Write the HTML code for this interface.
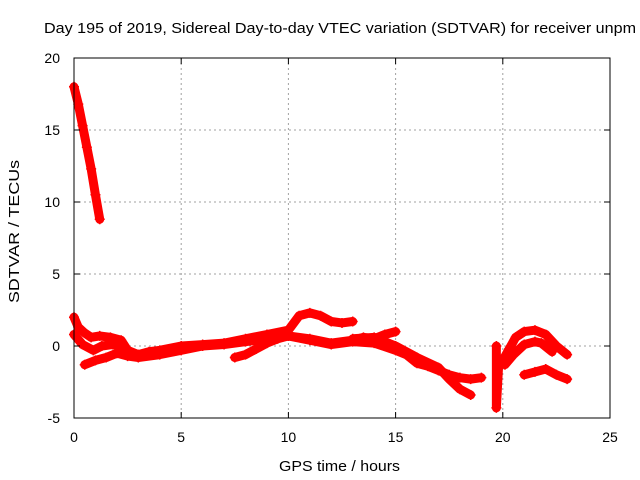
<!DOCTYPE html>
<html><head><meta charset="utf-8"><style>
body{margin:0;background:#fff;}
svg{display:block;font-family:"Liberation Sans",sans-serif;}
</style></head><body>
<svg id="chart" width="640" height="480" xmlns="http://www.w3.org/2000/svg">
<text x="44" y="33" font-size="15" textLength="592" lengthAdjust="spacingAndGlyphs">Day 195 of 2019, Sidereal Day-to-day VTEC variation (SDTVAR) for receiver unpm</text>
<text x="279" y="471" font-size="15" textLength="121" lengthAdjust="spacingAndGlyphs">GPS time / hours</text>
<text transform="translate(19,303) rotate(-90)" font-size="15" textLength="143" lengthAdjust="spacingAndGlyphs">SDTVAR / TECUs</text>
<g id="grid"></g><g id="marks"></g><g id="axes"></g>
</svg>
<script>
const xTicks=[0,5,10,15,20,25];
const yTicks=[-5,0,5,10,15,20];
const s1x=[0,0.2,0.4,0.6,0.8,1.0,1.2];
const s1y=[18,16.8,15.3,13.8,12.3,10.5,8.8];
const s2x=[0,0.2,0.5,0.8,1.2,1.7,2.2,2.5,3,3.5,4,5,6,7,8,9,10,10.5,11,11.5,12,12.5,13];
const s2y=[2,1.3,0.9,0.6,0.7,0.6,0.4,-0.3,-0.6,-0.4,-0.3,0,0.1,0.2,0.5,0.8,1.1,2.1,2.3,2.1,1.7,1.6,1.7];
const s3x=[0,0.4,0.9,1.3,1.8,2.2];
const s3y=[0.8,0.1,-0.3,0,0.1,0];
const s4x=[0.5,1,1.5,2,2.5,3,4,5,6,7,8,9,10,11,12,13,13.5,14,14.5,15];
const s4y=[-1.3,-1,-0.8,-0.5,-0.7,-0.8,-0.6,-0.3,0,0.1,0.3,0.5,0.7,0.5,0.2,0.4,0.6,0.5,0.8,1.0];
const s5x=[7.5,8,8.5,9,9.5,10,11,12,13,14,15,15.5,16,16.5,17,17.5,18,18.5,19];
const s5y=[-0.8,-0.6,-0.2,0.2,0.5,0.7,0.4,0.1,0.3,0.2,-0.3,-0.6,-1.2,-1.4,-1.7,-2.0,-2.2,-2.3,-2.2];
const s6x=[13,14,15,16,17,17.5,18,18.5];
const s6y=[0.5,0.6,0,-0.8,-1.5,-2.3,-3.0,-3.4];
const s7x=[19.7,19.7,19.8,20,20.3,20.6,21,21.5,22,22.5,23];
const s7y=[0,-4.3,-1.5,-1,-0.2,0.6,1.0,1.1,0.8,0,-0.6];
const s8x=[20.1,20.5,21,21.5,21.8,22.3];
const s8y=[-1.3,-0.6,0.1,0.3,0.2,-0.4];
const s9x=[21,21.5,22,22.5,23];
const s9y=[-2,-1.8,-1.6,-2.0,-2.3];
const series=[[s1x,s1y],[s2x,s2y],[s3x,s3y],[s4x,s4y],[s5x,s5y],[s6x,s6y],[s7x,s7y],[s8x,s8y],[s9x,s9y]];
const L=74,R=610,T=58,B=418;
const X=v=>L+(v-0)/25*(R-L);
const Y=v=>B-(v+5)/25*(B-T);
const NS="http://www.w3.org/2000/svg";
function mk(t,a,p){const e=document.createElementNS(NS,t);for(const k in a)e.setAttribute(k,a[k]);p.appendChild(e);return e;}
const grid=document.getElementById('grid'),axes=document.getElementById('axes'),marks=document.getElementById('marks');
xTicks.forEach(t=>{
  if(t>0&&t<25){const g=mk('line',{x1:X(t),x2:X(t),y1:T,y2:B,stroke:'#a0a0a0','stroke-dasharray':'2,3'},grid);
  
  }
  const l=mk('text',{x:X(t),y:B+24,'font-size':14,'text-anchor':'middle'},axes);l.textContent=t;
  
  
  mk('line',{x1:X(t),x2:X(t),y1:B,y2:B-6,stroke:'#000'},axes);
  mk('line',{x1:X(t),x2:X(t),y1:T,y2:T+6,stroke:'#000'},axes);
});
yTicks.forEach(t=>{
  if(t>-5&&t<20){const g=mk('line',{x1:L,x2:R,y1:Y(t),y2:Y(t),stroke:'#a0a0a0','stroke-dasharray':'2,3'},grid);
  
  }
  const l=mk('text',{x:L-14,y:Y(t)+5,'font-size':14,'text-anchor':'end'},axes);l.textContent=t;
  
  
  mk('line',{x1:L,x2:L+6,y1:Y(t),y2:Y(t),stroke:'#000'},axes);
  mk('line',{x1:R,x2:R-6,y1:Y(t),y2:Y(t),stroke:'#000'},axes);
});
const fr=mk('rect',{x:L,y:T,width:R-L,height:B-T,fill:'none',stroke:'#000'},axes);


series.forEach((s,i)=>{
  const pts=s[0].map((x,j)=>X(x)+','+Y(s[1][j])).join(' ');
  const pl=mk('polyline',{points:pts,fill:'none',stroke:'#ff0000','stroke-width':9,'stroke-linejoin':'round','stroke-linecap':'round'},marks);
  
  
  s[0].forEach((x,j)=>{
    const m=mk('path',{d:`M${X(x)-5},${Y(s[1][j])}h10M${X(x)},${Y(s[1][j])-5}v10`,stroke:'#ff0000','stroke-width':1.5},marks);
    
    
  });
});
</script>
</body></html>
